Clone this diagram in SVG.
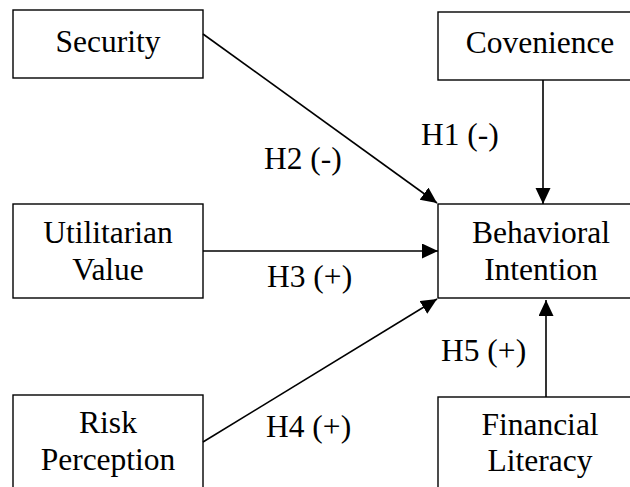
<svg xmlns="http://www.w3.org/2000/svg" width="630" height="487" viewBox="0 0 630 487">
<style>
.box{fill:#fff;stroke:#000;stroke-width:1.4}
.t{font-family:'Liberation Serif',serif;font-size:31.5px;fill:#000}
.c{text-anchor:middle}
.ln{stroke:#000;stroke-width:1.6;fill:none;marker-end:url(#ah)}
</style>
<defs>
<marker id="ah" markerUnits="userSpaceOnUse" markerWidth="17" markerHeight="16" refX="16" refY="7.5" orient="auto">
<path d="M0,0 L16,7.5 L0,15 z" fill="#000"/>
</marker>
</defs>
<rect width="630" height="487" fill="#fff"/>
<g id="security"><rect class="box" x="13" y="10" width="190" height="68"/><text class="t c" x="108" y="52">Security</text></g>
<g id="convenience"><rect class="box" x="438" y="12" width="206" height="68"/><text class="t c" x="540" y="53">Covenience</text></g>
<g id="utilitarian"><rect class="box" x="13" y="204" width="190" height="94"/><text class="t c" x="108" y="243">Utilitarian</text><text class="t c" x="108" y="280">Value</text></g>
<g id="behavioral"><rect class="box" x="438" y="204" width="206" height="94"/><text class="t c" x="541" y="243">Behavioral</text><text class="t c" x="541" y="280">Intention</text></g>
<g id="risk"><rect class="box" x="13" y="395" width="190" height="94"/><text class="t c" x="108" y="433">Risk</text><text class="t c" x="108" y="470">Perception</text></g>
<g id="financial"><rect class="box" x="438" y="397" width="206" height="94"/><text class="t c" x="540" y="435">Financial</text><text class="t c" x="540" y="471">Literacy</text></g>
<g id="connectors">
<line class="ln" x1="203" y1="34" x2="437" y2="203"/>
<line class="ln" x1="543" y1="80" x2="543" y2="204"/>
<line class="ln" x1="203" y1="251" x2="438" y2="251"/>
<line class="ln" x1="203" y1="442" x2="437" y2="299"/>
<line class="ln" x1="546" y1="397" x2="546" y2="300"/>
<text class="t" x="421" y="145">H1 (-)</text>
<text class="t" x="264" y="169">H2 (-)</text>
<text class="t" x="267" y="287">H3 (+)</text>
<text class="t" x="266" y="437">H4 (+)</text>
<text class="t" x="441" y="361">H5 (+)</text>
</g>
</svg>
